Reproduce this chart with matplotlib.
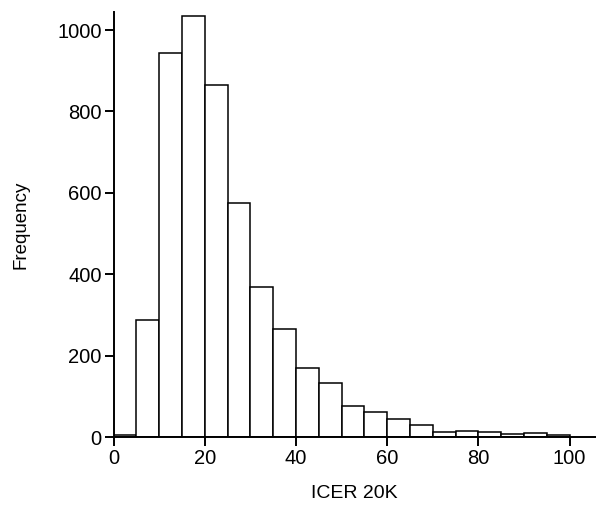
import matplotlib.pyplot as plt
import numpy as np

# Histogram counts, bins of width 5 from 0 to 100
bin_edges = np.arange(0, 105, 5)
counts = [4, 287, 944, 1035, 865, 575, 369, 265, 170, 133,
          77, 61, 45, 29, 13, 16, 13, 8, 10, 5]
x_ticks = [0, 20, 40, 60, 80, 100]
y_ticks = [0, 200, 400, 600, 800, 1000]

plt.rcParams['font.family'] = ['Liberation Sans', 'DejaVu Sans']

fig = plt.figure(figsize=(5.96, 5.07), dpi=100)
ax = fig.add_axes([0.1905, 0.138, 0.8095, 0.838])

#Bars of the histogram
ax.bar(bin_edges[:-1], counts, width=5, align='edge',
       color='white', edgecolor='black', linewidth=1.1)

ax.set_xlim(0, 105.8)
ax.set_ylim(0, 1044)
ax.set_xticks(x_ticks)
ax.set_yticks(y_ticks)

#Axis styling
for side in ['top', 'right']:
    ax.spines[side].set_visible(False)
for side in ['left', 'bottom']:
    ax.spines[side].set_linewidth(1.4)
ax.tick_params(direction='out', length=6.5, width=1.4, labelsize=14.5, pad=2)

ax.set_xlabel('ICER 20K', fontsize=14, labelpad=12)
ax.set_ylabel('Frequency', fontsize=13.5, labelpad=20)

plt.savefig('out.png', dpi=100)
